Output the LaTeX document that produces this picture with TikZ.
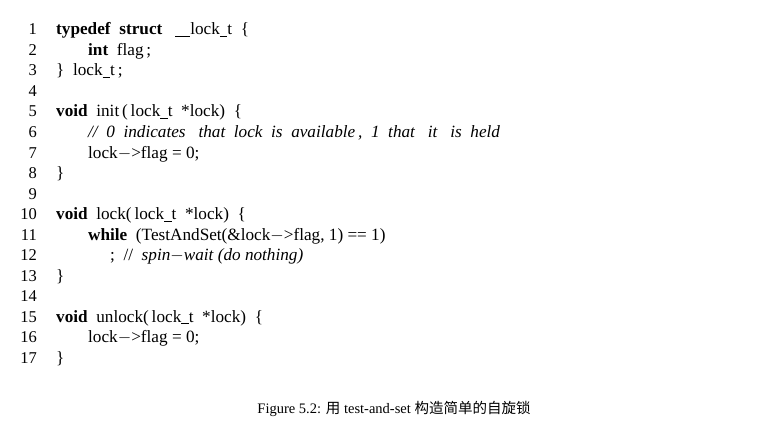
\documentclass[tikz,border=0pt]{standalone}
\usepackage{fontspec}
\setmainfont{Liberation Serif}
\newfontfamily\cjk{Noto Sans CJK SC}
\usetikzlibrary{positioning}
\newcommand{\kw}[1]{\textbf{#1}}
\newcommand{\us}{\rule[-1.8pt]{7.5pt}{0.6pt}}

\begin{document}
\begin{tikzpicture}
  [x=1pt, y=-1pt,
  num/.style={anchor=base east, inner sep=0pt, font=\fontsize{16.5}{18}\selectfont},
  code/.style={anchor=base west, inner sep=0pt, font=\fontsize{17.2}{19}\selectfont}]
  \useasboundingbox (0,0) rectangle (761,444);
  % line numbers
  \foreach \n in {1,...,17}
    \node (num\n) [num] at (37,{35+(\n-1)*20.5}) {\n};
  % listing
  \node (l1) [code] at (56,35) {\kw{typedef}\ \ \kw{struct}\ \ \ \us\us lock\us t\ \ \{};
  \node (l2) [code] at (88,55.5) {\kw{int}\ \ flag\,;};
  \node (l3) [code] at (56,76) {\}\ \ lock\us t\,;};
  \node (l5) [code] at (56,117) {\kw{void}\ \ init\,(\,lock\us t\ \ *lock)\ \ \{};
  \node (l6) [code] at (88,137.5) {\itshape //\ \ 0\ \ indicates\ \ \ that\ \ lock\ \ is\ \ available\,,\ \ 1\ \ that\ \ \ it\ \ \ is\ \ held};
  \node (l7) [code] at (88,158) {lock$-$>flag = 0;};
  \node (l8) [code] at (56,178.5) {\}};
  \node (l10) [code] at (56,219.5) {\kw{void}\ \ lock(\,lock\us t\ \ *lock)\ \ \{};
  \node (l11) [code] at (88,240) {\kw{while}\ \ (TestAndSet(\&lock$-$>flag, 1) == 1)};
  \node (l12) [code] at (110,260.5) {;\ \ //\ \ \itshape spin$-$wait (do nothing)};
  \node (l13) [code] at (56,281) {\}};
  \node (l15) [code] at (56,322) {\kw{void}\ \ unlock(\,lock\us t\ \ *lock)\ \ \{};
  \node (l16) [code] at (88,342.5) {lock$-$>flag = 0;};
  \node (l17) [code] at (56,363) {\}};
  % caption
  \node (caption) [font=\fontsize{14.5}{16}\selectfont] at (394,409) {Figure 5.2: {\cjk 用} test-and-set {\cjk 构造简单的自旋锁}};
\end{tikzpicture}
\end{document}
